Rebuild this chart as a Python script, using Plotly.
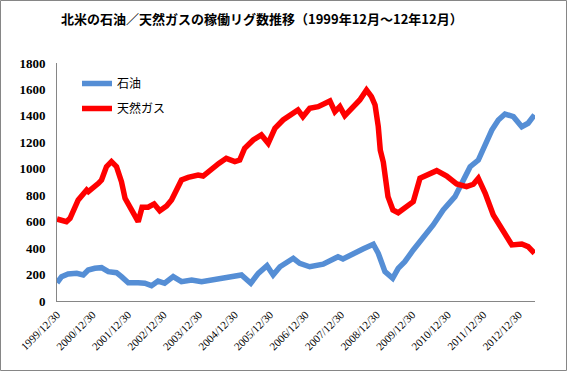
import plotly.graph_objects as go

# ---- data ----
oil_dates = [
    "1999-12-30", "2000-02-15", "2000-04-22", "2000-07-20", "2000-09-25", "2000-11-15",
    "2001-01-22", "2001-04-01", "2001-06-10", "2001-09-02", "2001-10-23", "2002-01-01",
    "2002-04-13", "2002-06-20", "2002-08-28", "2002-11-03", "2003-01-10", "2003-04-08",
    "2003-07-02", "2003-10-15", "2004-01-25", "2004-05-08", "2004-09-02", "2004-12-18",
    "2005-03-10", "2005-06-14", "2005-08-30", "2005-11-28", "2006-01-30", "2006-04-10",
    "2006-08-25", "2006-10-30", "2007-02-10", "2007-06-28", "2007-11-28", "2008-01-18",
    "2008-04-30", "2008-08-10", "2008-11-25", "2009-01-15", "2009-03-25", "2009-06-12",
    "2009-08-08", "2009-10-15", "2010-01-10", "2010-04-22", "2010-08-03", "2010-11-14",
    "2011-03-15", "2011-06-10", "2011-08-18", "2011-11-10", "2012-01-20", "2012-03-28",
    "2012-06-03", "2012-08-10", "2012-11-05", "2013-01-30", "2013-04-05", "2013-06-10",
]
oil_values = [
    138, 184, 204, 209, 197, 234,
    247, 252, 222, 214, 184, 138,
    138, 134, 116, 151, 134, 184,
    146, 159, 146, 159, 172, 179,
    197, 134, 209, 267, 197, 259,
    323, 285, 259, 278, 335, 318,
    361, 393, 429, 361, 222, 172,
    247, 297, 386, 474, 575, 688,
    789, 915, 1016, 1066, 1180, 1293,
    1369, 1414, 1394, 1318, 1344, 1407,
]

gas_dates = [
    "1999-12-30", "2000-04-05", "2000-05-12", "2000-08-04", "2000-10-30", "2000-11-17",
    "2001-02-28", "2001-04-01", "2001-05-22", "2001-07-12", "2001-09-02", "2001-10-23",
    "2001-11-29", "2002-01-19", "2002-03-11", "2002-04-13", "2002-05-23", "2002-07-24",
    "2002-09-24", "2002-11-21", "2003-01-30", "2003-03-22", "2003-05-12", "2003-07-02",
    "2003-09-09", "2003-12-20", "2004-02-10", "2004-04-20", "2004-07-20", "2004-10-05",
    "2005-01-01", "2005-02-20", "2005-04-12", "2005-07-09", "2005-10-01", "2005-12-10",
    "2006-02-17", "2006-05-12", "2006-08-08", "2006-10-12", "2006-12-02", "2007-02-10",
    "2007-05-08", "2007-07-13", "2007-09-06", "2007-10-27", "2007-12-17", "2008-02-06",
    "2008-04-16", "2008-07-09", "2008-09-16", "2008-11-06", "2008-12-13", "2009-01-15",
    "2009-02-05", "2009-03-08", "2009-04-25", "2009-06-15", "2009-08-08", "2009-11-03",
    "2010-01-10", "2010-03-20", "2010-05-25", "2010-09-08", "2010-12-20", "2011-04-01",
    "2011-07-12", "2011-09-20", "2011-11-10", "2012-01-20", "2012-04-12", "2012-07-22",
    "2012-10-20", "2013-01-30", "2013-04-05", "2013-06-10",
]
gas_values = [
    620, 600, 625, 764, 840, 827,
    890, 915, 1016, 1054, 1016, 902,
    777, 713, 638, 600, 709, 709,
    734, 683, 719, 764, 840, 915,
    935, 953, 945, 991, 1041, 1079,
    1054, 1066, 1155, 1218, 1256, 1193,
    1306, 1369, 1420, 1445, 1394, 1458,
    1470, 1488, 1513, 1432, 1470, 1402,
    1458, 1520, 1596, 1545, 1483, 1320,
    1140, 1050, 789, 688, 668, 713,
    751, 928, 953, 986, 945, 885,
    865, 883, 928, 815, 651, 524,
    424, 431, 411, 361,
]

tick_vals = [f"{y}-12-30" for y in range(1999, 2013)]
tick_text = [f"{y}/12/30" for y in range(1999, 2013)]
y_ticks = [0, 200, 400, 600, 800, 1000, 1200, 1400, 1600, 1800]

series_names = ["石油", "天然ガス"]
title_text = "北米の石油／天然ガスの稼働リグ数推移（1999年12月～12年12月）"

# ---- figure ----
W, H = 567, 371
L, R, T, B = 57, 32, 63, 70
pw, ph = W - L - R, H - T - B

fig = go.Figure()
fig.add_trace(go.Scatter(x=oil_dates, y=oil_values, mode="lines", name=series_names[0],
                         legendgroup="oil",
                         line=dict(color="#558ED5", width=5.5)))
fig.add_trace(go.Scatter(x=gas_dates, y=gas_values, mode="lines", name=series_names[1],
                         legendgroup="gas",
                         line=dict(color="#FF0000", width=5.5)))

fig.update_layout(
    width=W, height=H,
    margin=dict(l=L, r=R, t=T, b=B, pad=0, autoexpand=False),
    paper_bgcolor="white", plot_bgcolor="white",
    showlegend=True,
    legend=dict(x=(77 - L) / pw, y=(301 - 69) / ph, xanchor="left", yanchor="top",
                bgcolor="rgba(0,0,0,0)", itemwidth=30, tracegroupgap=6,
                font=dict(family="Noto Sans CJK JP", size=12, color="black")),
    font=dict(family="Noto Sans CJK JP", color="black"),
)

fig.update_xaxes(
    type="date", range=["1999-12-30", "2013-06-15"], automargin=False,
    tickmode="array", tickvals=tick_vals, ticktext=tick_text, tickangle=-45,
    tickfont=dict(family="Liberation Serif", size=11, color="black"),
    showgrid=False, zeroline=False, showline=True, linecolor="#868686", linewidth=1,
    ticks="", ticklabelstandoff=2,
)
fig.update_yaxes(
    range=[0, 1800], tickmode="array", tickvals=y_ticks, automargin=False,
    tickfont=dict(family="Liberation Serif", size=13, color="black", weight="bold"),
    showgrid=False, zeroline=False, showline=True, linecolor="#868686", linewidth=1,
    ticks="", ticklabelstandoff=8,
)

fig.add_annotation(
    text=title_text, xref="paper", yref="paper",
    x=(262 - L) / pw, y=(301 - 18) / ph, xanchor="center", yanchor="middle",
    showarrow=False, font=dict(family="Noto Sans CJK JP", size=13, color="black", weight="bold"),
)

# chart area border
fig.add_shape(type="rect", xref="paper", yref="paper",
              x0=(0.5 - L) / pw, x1=(566.5 - L) / pw,
              y0=(301 - 370.5) / ph, y1=(301 - 0.5) / ph,
              line=dict(color="#868686", width=1), fillcolor="rgba(0,0,0,0)", layer="below")

fig.write_html("out.html", config={"displayModeBar": False},
               post_script="document.body.style.margin='0';document.body.style.overflow='hidden';")
